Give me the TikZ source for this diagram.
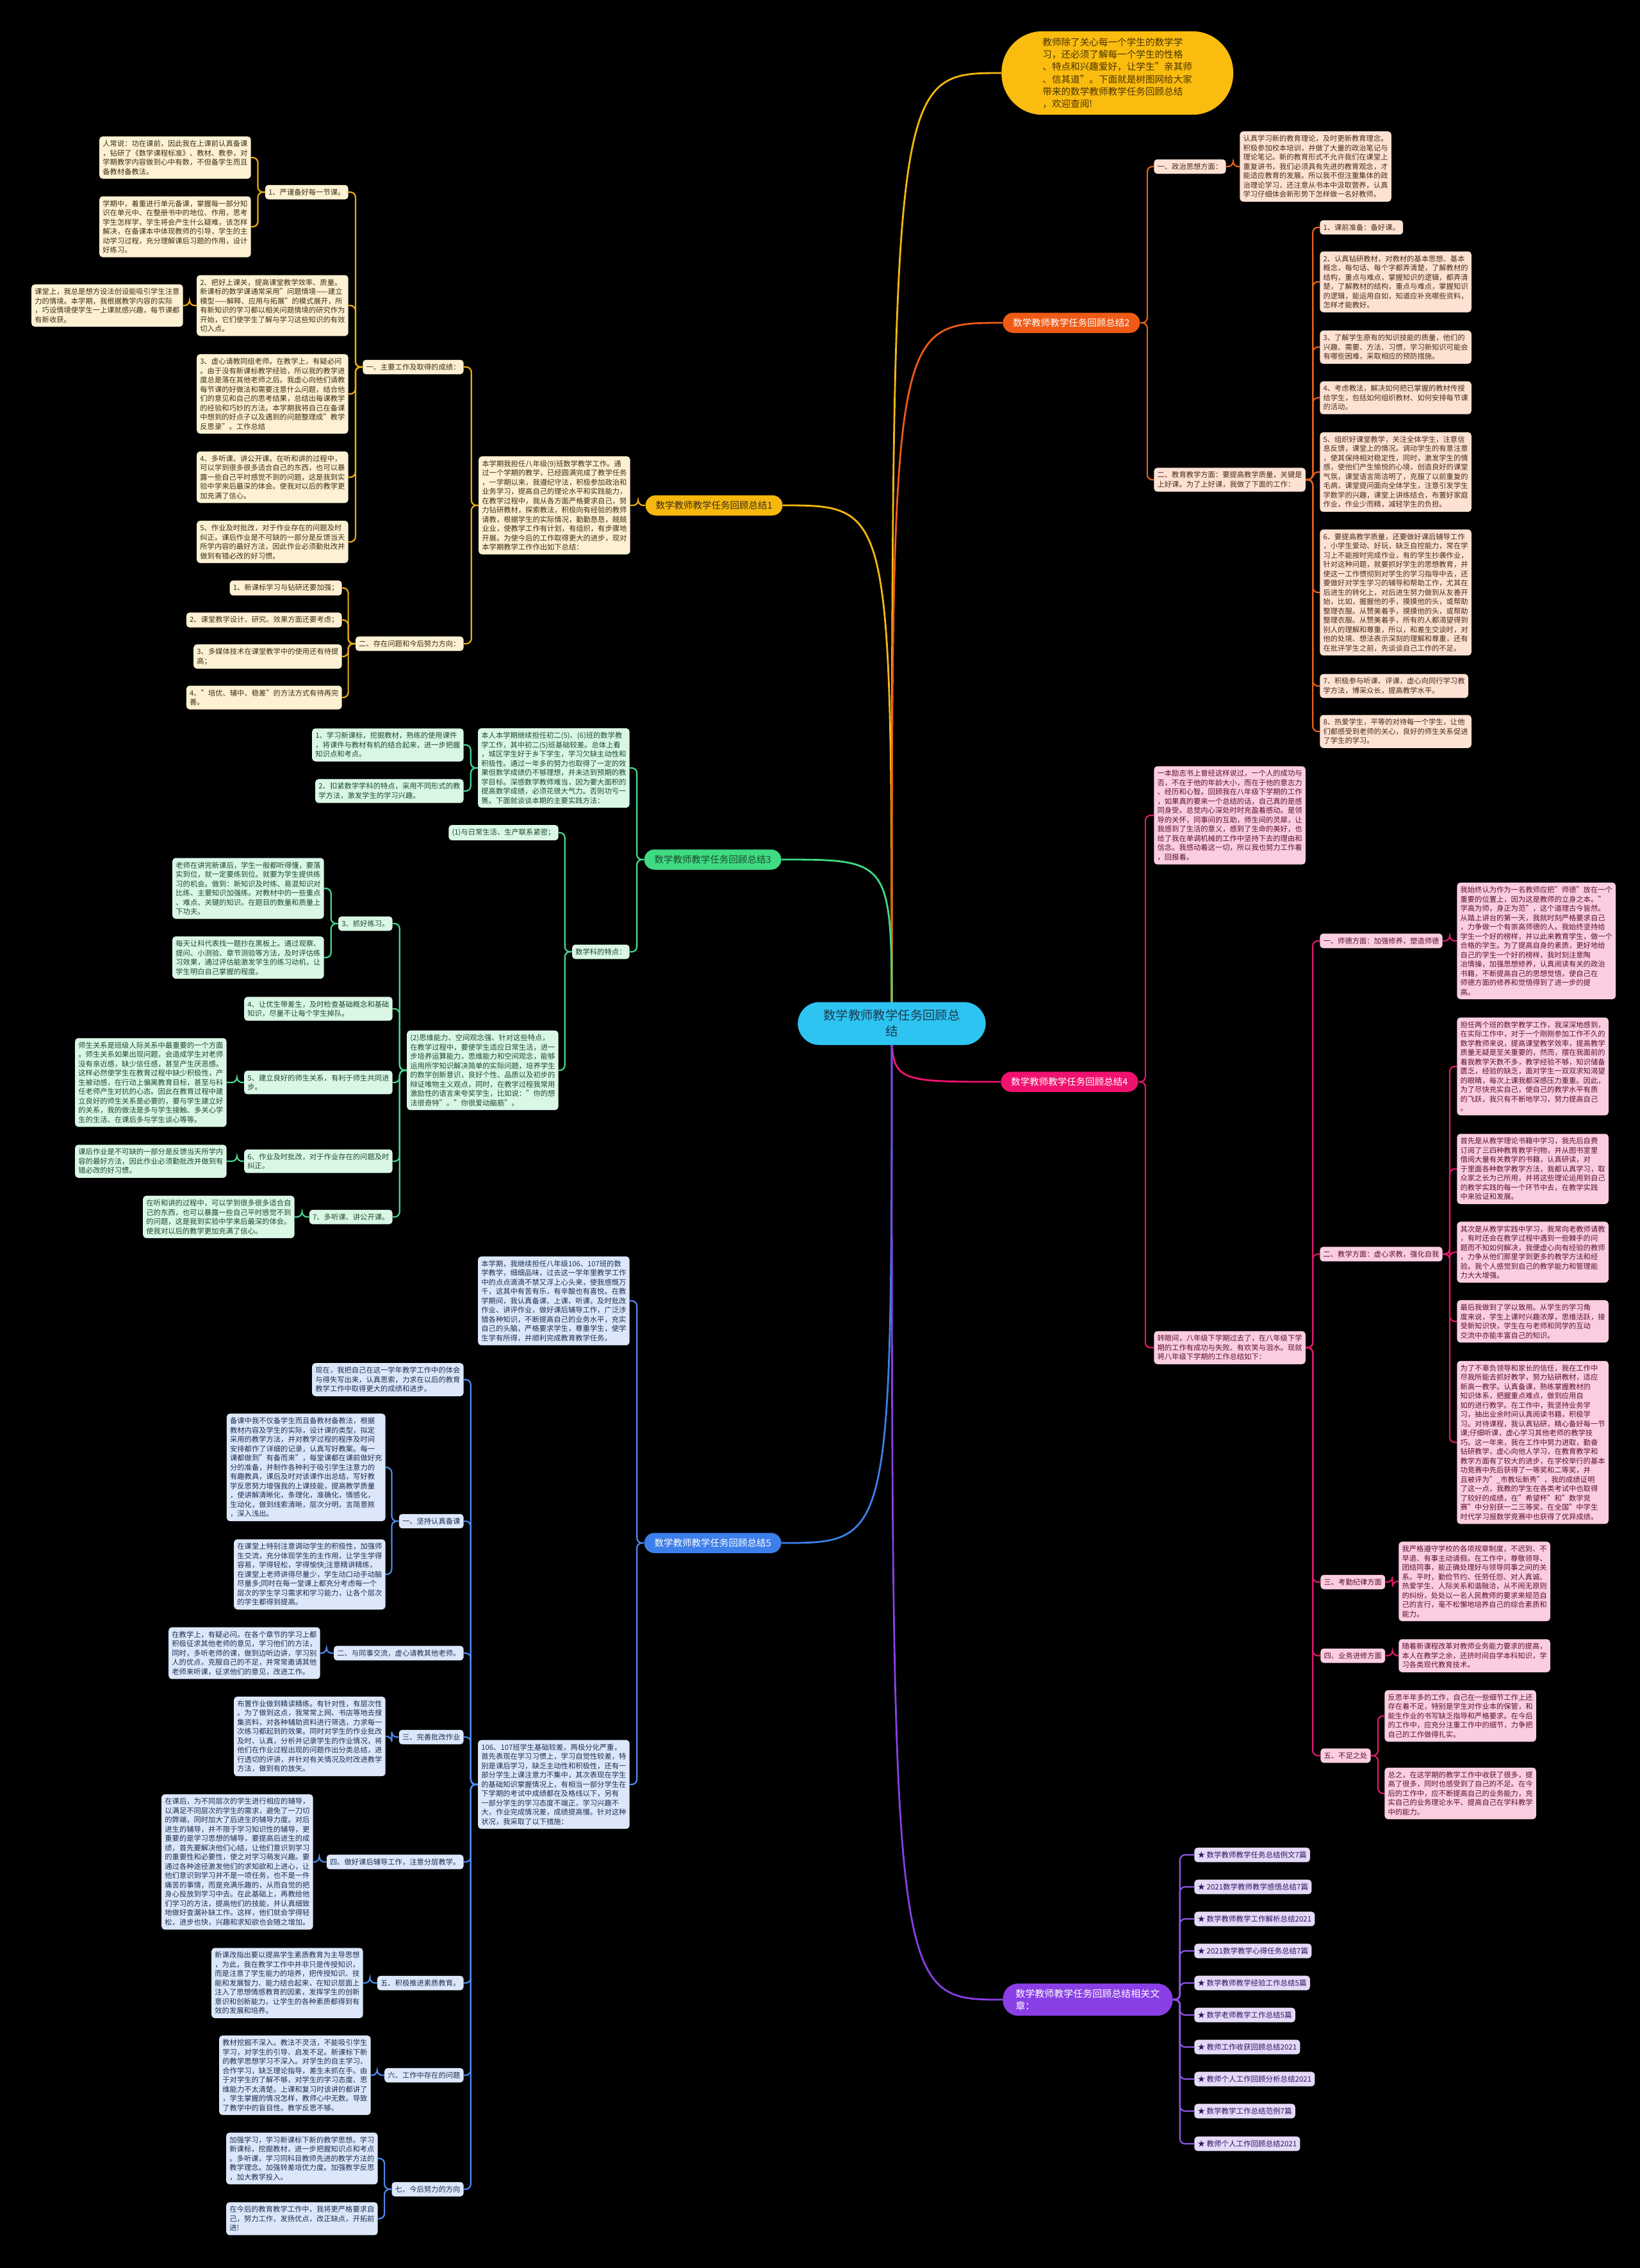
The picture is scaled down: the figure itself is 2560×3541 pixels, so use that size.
\documentclass[tikz,border=0pt]{standalone}
\usepackage{fontspec}
\setmainfont{Noto Sans CJK SC}
\XeTeXlinebreaklocale "zh"
\XeTeXlinebreakskip = 0pt plus 1pt
\pgfdeclarelayer{bg}
\pgfdeclarelayer{background}
\pgfsetlayers{bg,background,main}
\definecolor{ctrfill}{HTML}{2EC4F1}
\definecolor{ctrtext}{HTML}{1E3A4F}
\definecolor{goldmain}{HTML}{F6B80E}
\definecolor{goldline}{HTML}{E9AE14}
\definecolor{goldfill}{HTML}{FCF1D2}
\definecolor{goldtext}{HTML}{3C2F19}
\definecolor{intfill}{HTML}{FBBC10}
\definecolor{inttext}{HTML}{4A3500}
\definecolor{ormain}{HTML}{EF5B17}
\definecolor{orline}{HTML}{E8621E}
\definecolor{orfill}{HTML}{FDE2D4}
\definecolor{ortext}{HTML}{4B2A1C}
\definecolor{grmain}{HTML}{3EDB83}
\definecolor{grline}{HTML}{47D98B}
\definecolor{grfill}{HTML}{DAF6E5}
\definecolor{grtext}{HTML}{1D4B2E}
\definecolor{mgmain}{HTML}{F0126F}
\definecolor{mgline}{HTML}{E0196E}
\definecolor{mgfill}{HTML}{FBCDE0}
\definecolor{mgtext}{HTML}{5B1133}
\definecolor{blmain}{HTML}{3D7FEA}
\definecolor{blline}{HTML}{4C8BF0}
\definecolor{blfill}{HTML}{DCE8FA}
\definecolor{bltext}{HTML}{1C2E52}
\definecolor{pumain}{HTML}{8A3FE6}
\definecolor{puline}{HTML}{8F57E8}
\definecolor{pufill}{HTML}{E4D9F7}
\definecolor{putext}{HTML}{2F1462}
\tikzset{
  base/.style={rounded corners=2.5pt, inner xsep=2.6pt, inner ysep=3pt, align=left,
    font=\fontsize{5.65}{7.25}\selectfont},
  gb/.style={base, fill=goldfill, text=goldtext},
  ob/.style={base, fill=orfill, text=ortext},
  grb/.style={base, fill=grfill, text=grtext},
  mb/.style={base, fill=mgfill, text=mgtext},
  bb/.style={base, fill=blfill, text=bltext},
  pb/.style={base, fill=pufill, text=putext, font=\fontsize{5.75}{7.25}\selectfont},
  mainb/.style={rounded corners=8pt, inner xsep=8pt, inner ysep=4.5pt, align=center,
    font=\fontsize{7.25}{9}\selectfont},
  conn/.style={line width=1.1pt, rounded corners=4pt},
  mconn/.style={line width=1.4pt}
}
\newcommand\lcon[3]{\draw[conn,#3] (#1.west) -- ++(-11,0) |- (#2.east);}
\newcommand\rcon[3]{\draw[conn,#3] (#1.east) -- ++(11,0) |- (#2.west);}
\begin{document}
\begin{tikzpicture}[x=0.5pt,y=-0.5pt]
\begin{pgfonlayer}{bg}
\fill[black] (0,0) rectangle (2560,3541);
\end{pgfonlayer}
\useasboundingbox (0,0) rectangle (2560,3541);

% center
\node[fill=ctrfill, text=ctrtext, rounded corners=17pt, inner xsep=20pt, inner ysep=6pt,
  align=center, font=\fontsize{9.7}{12.5}\selectfont] (ctr) at (1392,1598) {数学教师教学任务回顾总\\结};

% intro bubble
\node[fill=intfill, text=inttext, rounded corners=32pt, inner xsep=32pt, inner ysep=5pt,
  align=left, font=\fontsize{7.3}{9.65}\selectfont, anchor=west] (intro) at (1563,114)
  {教师除了关心每一个学生的数学学\\习，还必须了解每一个学生的性格\\、特点和兴趣爱好，让学生"亲其师\\、信其道"。下面就是树图网给大家\\带来的数学教师教学任务回顾总结\\，欢迎查阅!};

% ===== Branch 1 (gold) =====
\node[mainb, fill=goldmain, text=goldtext, anchor=east] (B1) at (1222,789) {数学教师教学任务回顾总结1};
\node[gb, anchor=east] (T1) at (984,789) {本学期我担任八年级(9)班数学教学工作。通\\过一个学期的教学，已经圆满完成了教学任务\\，一学期以来，我遵纪守法，积极参加政治和\\业务学习，提高自己的理论水平和实践能力，\\在教学过程中，我从各方面严格要求自己，努\\力钻研教材，探索教法，积极向有经验的教师\\请教，根据学生的实际情况，勤勤恳恳，兢兢\\业业，使教学工作有计划，有组织，有步骤地\\开展。为使今后的工作取得更大的进步，现对\\本学期教学工作作出如下总结：};
\node[gb, anchor=east] (s1a) at (724,573) {一、主要工作及取得的成绩：};
\node[gb, anchor=east] (s1b) at (724,1005) {二、存在问题和今后努力方向：};
\node[gb, anchor=east] (c1) at (544,300) {1、严谨备好每一节课。};
\node[gb, anchor=east] (c2) at (544,477) {2、把好上课关，提高课堂教学效率、质量。\\新课标的数学课通常采用"问题情境——建立\\模型——解释、应用与拓展"的模式展开，所\\有新知识的学习都以相关问题情境的研究作为\\开始，它们使学生了解与学习这些知识的有效\\切入点。};
\node[gb, anchor=east] (c3) at (544,615) {3、虚心请教同组老师。在教学上，有疑必问\\。由于没有新课标教学经验，所以我的教学进\\度总是落在其他老师之后。我虚心向他们请教\\每节课的好做法和需要注意什么问题，结合他\\们的意见和自己的思考结果，总结出每课教学\\的经验和巧妙的方法。本学期我将自己在备课\\中想到的好点子以及遇到的问题整理成"教学\\反思录"。工作总结};
\node[gb, anchor=east] (c4) at (544,745) {4、多听课、讲公开课。在听和讲的过程中，\\可以学到很多很多适合自己的东西，也可以暴\\露一些自己平时感觉不到的问题，这是我到实\\验中学来后最深的体会。使我对以后的教学更\\加充满了信心。};
\node[gb, anchor=east] (c5) at (544,846) {5、作业及时批改，对于作业存在的问题及时\\纠正。课后作业是不可缺的一部分是反馈当天\\所学内容的最好方法，因此作业必须勤批改并\\做到有错必改的好习惯。};
\node[gb, anchor=east] (g1a) at (392,246) {人常说：功在课前，因此我在上课前认真备课\\，钻研了《数学课程标准》、教材、教参，对\\学期教学内容做到心中有数，不但备学生而且\\备教材备教法。};
\node[gb, anchor=east] (g1b) at (392,354) {学期中，着重进行单元备课，掌握每一部分知\\识在单元中、在整册书中的地位、作用，思考\\学生怎样学，学生将会产生什么疑难，该怎样\\解决，在备课本中体现教师的引导，学生的主\\动学习过程，充分理解课后习题的作用，设计\\好练习。};
\node[gb, anchor=east] (g2a) at (286,477) {课堂上，我总是想方设法创设能吸引学生注意\\力的情境。本学期，我根据教学内容的实际\\，巧设情境使学生一上课就感兴趣，每节课都\\有新收获。};
\node[gb, anchor=east] (d1) at (534,918) {1、新课标学习与钻研还要加强；};
\node[gb, anchor=east] (d2) at (534,968) {2、课堂教学设计、研究、效果方面还要考虑；};
\node[gb, anchor=east] (d3) at (534,1025) {3、多媒体技术在课堂教学中的使用还有待提\\高；};
\node[gb, anchor=east] (d4) at (534,1089) {4、"培优、辅中、稳差"的方法方式有待再完\\善。};

% ===== Branch 2 (orange) =====
\node[mainb, fill=ormain, text=white, anchor=west] (B2) at (1565,504) {数学教师教学任务回顾总结2};
\node[ob, anchor=west] (o1) at (1801,260) {一、政治思想方面：};
\node[ob, anchor=west] (o1t) at (1935,260) {认真学习新的教育理论，及时更新教育理念。\\积极参加校本培训，并做了大量的政治笔记与\\理论笔记。新的教育形式不允许我们在课堂上\\重复讲书，我们必须具有先进的教育观念，才\\能适应教育的发展。所以我不但注重集体的政\\治理论学习，还注意从书本中汲取营养，认真\\学习仔细体会新形势下怎样做一名好教师。};
\node[ob, anchor=west] (o2) at (1801,749) {二、教育教学方面：要提高教学质量，关键是\\上好课。为了上好课，我做了下面的工作：};
\node[ob, anchor=west] (k1) at (2060,355) {1、课前准备：备好课。};
\node[ob, anchor=west] (k2) at (2060,440) {2、认真钻研教材，对教材的基本思想、基本\\概念，每句话、每个字都弄清楚，了解教材的\\结构，重点与难点，掌握知识的逻辑，都弄清\\楚，了解教材的结构，重点与难点，掌握知识\\的逻辑，能运用自如，知道应补充哪些资料，\\怎样才能教好。};
\node[ob, anchor=west] (k3) at (2060,542) {3、了解学生原有的知识技能的质量，他们的\\兴趣、需要、方法、习惯，学习新知识可能会\\有哪些困难，采取相应的预防措施。};
\node[ob, anchor=west] (k4) at (2060,621) {4、考虑教法，解决如何把已掌握的教材传授\\给学生，包括如何组织教材、如何安排每节课\\的活动。};
\node[ob, anchor=west] (k5) at (2060,737) {5、组织好课堂教学，关注全体学生，注意信\\息反馈，课堂上的情况。调动学生的有意注意\\，使其保持相对稳定性，同时，激发学生的情\\感，使他们产生愉悦的心境，创造良好的课堂\\气氛，课堂语言简洁明了，克服了以前重复的\\毛病，课堂提问面向全体学生，注意引发学生\\学数学的兴趣，课堂上讲练结合，布置好家庭\\作业，作业少而精，减轻学生的负担。};
\node[ob, anchor=west] (k6) at (2060,925) {6、要提高教学质量，还要做好课后辅导工作\\，小学生爱动、好玩，缺乏自控能力，常在学\\习上不能按时完成作业，有的学生抄袭作业，\\针对这种问题，就要抓好学生的思想教育，并\\使这一工作惯彻到对学生的学习指导中去，还\\要做好对学生学习的辅导和帮助工作，尤其在\\后进生的转化上，对后进生努力做到从友善开\\始，比如，握握他的手，摸摸他的头，或帮助\\整理衣服。从赞美着手，摸摸他的头，或帮助\\整理衣服。从赞美着手，所有的人都渴望得到\\别人的理解和尊重，所以，和差生交谈时，对\\他的处境、想法表示深刻的理解和尊重，还有\\在批评学生之前，先谈谈自己工作的不足。};
\node[ob, anchor=west] (k7) at (2060,1071) {7、积极参与听课、评课，虚心向同行学习教\\学方法，博采众长，提高教学水平。};
\node[ob, anchor=west] (k8) at (2060,1142) {8、热爱学生，平等的对待每一个学生，让他\\们都感受到老师的关心，良好的师生关系促进\\了学生的学习。};

% ===== Branch 3 (green) =====
\node[mainb, fill=grmain, text=grtext, anchor=east] (B3) at (1220,1342) {数学教师教学任务回顾总结3};
\node[grb, anchor=east] (v0) at (983,1199) {本人本学期继续担任初二(5)、(6)班的数学教\\学工作，其中初二(5)班基础较差。总体上看\\，城区学生好于乡下学生，学习欠缺主动性和\\积极性。通过一年多的努力也取得了一定的效\\果但数学成绩仍不够理想，并未达到预期的教\\学目标。深感数学教师难当，因为要大面积的\\提高数学成绩，必须花很大气力。否则功亏一\\篑。下面就谈谈本期的主要实践方法：};
\node[grb, anchor=east] (v0a) at (724,1163) {1、学习新课标，挖掘教材，熟练的使用课件\\，将课件与教材有机的结合起来，进一步把握\\知识点和考点。};
\node[grb, anchor=east] (v0b) at (724,1235) {2、扣紧数学学科的特点，采用不同形式的教\\学方法，激发学生的学习兴趣。};
\node[grb, anchor=east] (v1) at (983,1486) {数学科的特点：};
\node[grb, anchor=east] (w1) at (872,1300) {(1)与日常生活、生产联系紧密；};
\node[grb, anchor=east] (w2) at (872,1671) {(2)思维能力、空间观念强、针对这些特点，\\在教学过程中，要使学生适应日常生活，进一\\步培养运算能力，思维能力和空间观念，能够\\运用所学知识解决简单的实际问题，培养学生\\的数学创新意识，良好个性、品质以及初步的\\辩证唯物主义观点，同时，在教学过程我常用\\激励性的语言来夸奖学生，比如说："你的想\\法很奇特"。"你很爱动脑筋"。};
\node[grb, anchor=east] (x3) at (613,1442) {3、抓好练习。};
\node[grb, anchor=east] (x4) at (613,1575) {4、让优生带差生，及时检查基础概念和基础\\知识，尽量不让每个学生掉队。};
\node[grb, anchor=east] (x5) at (613,1690) {5、建立良好的师生关系，有利于师生共同进\\步。};
\node[grb, anchor=east] (x6) at (613,1813) {6、作业及时批改，对于作业存在的问题及时\\纠正。};
\node[grb, anchor=east] (x7) at (613,1900) {7、多听课、讲公开课。};
\node[grb, anchor=east] (x3a) at (506,1387) {老师在讲完新课后，学生一般都听得懂，要落\\实到位，就一定要练到位。就要为学生提供练\\习的机会。做到：新知识及时练、易混知识对\\比练、主要知识加强练。对教材中的一些重点\\、难点、关键的知识。在题目的数量和质量上\\下功夫。};
\node[grb, anchor=east] (x3b) at (506,1495) {每天让科代表找一题抄在黑板上。通过观察、\\提问、小测验、章节测验等方法，及时评估练\\习效果，通过评估能激发学生的练习动机，让\\学生明白自己掌握的程度。};
\node[grb, anchor=east] (x5k) at (354,1690) {师生关系是班级人际关系中最重要的一个方面\\。师生关系如果出现问题，会造成学生对老师\\没有亲近感，缺少信任感，甚至产生厌恶感。\\这样必然使学生在教育过程中缺少积极性，产\\生被动感，在行动上偏离教育目标，甚至与科\\任老师产生对抗的心态。因此在教育过程中建\\立良好的师生关系是必要的，要与学生建立好\\的关系，我的做法是多与学生接触、多关心学\\生的生活、在课后多与学生谈心等等。};
\node[grb, anchor=east] (x6k) at (354,1813) {课后作业是不可缺的一部分是反馈当天所学内\\容的最好方法，因此作业必须勤批改并做到有\\错必改的好习惯。};
\node[grb, anchor=east] (x7k) at (460,1900) {在听和讲的过程中，可以学到很多很多适合自\\己的东西，也可以暴露一些自己平时感觉不到\\的问题，这是我到实验中学来后最深的体会。\\使我对以后的教学更加充满了信心。};

% ===== Branch 4 (magenta) =====
\node[mainb, fill=mgmain, text=white, anchor=west] (B4) at (1562,1689) {数学教师教学任务回顾总结4};
\node[mb, anchor=west] (t41) at (1801,1273) {一本励志书上曾经这样说过，一个人的成功与\\否，不在于他的年龄大小，而在于他的意志力\\、经历和心智。回顾我在八年级下学期的工作\\，如果真的要来一个总结的话，自己真的是感\\同身受。总觉内心深处时时充盈着感动。是领\\导的关怀，同事间的互助，师生间的灵犀，让\\我感到了生活的意义，感到了生命的美好，也\\给了我在单调机械的工作中坚持下去的理由和\\信念。我感动着这一切，所以我也努力工作着\\，回报着。};
\node[mb, anchor=west] (t42) at (1801,2104) {转眼间，八年级下学期过去了，在八年级下学\\期的工作有成功与失败、有欢笑与泪水。现就\\将八年级下学期的工作总结如下：};
\node[mb, anchor=west] (p1) at (2060,1469) {一、师德方面：加强修养，塑造师德};
\node[mb, anchor=west] (p1t) at (2274,1469) {我始终认为作为一名教师应把"师德"放在一个\\重要的位置上，因为这是教师的立身之本。"\\学高为师，身正为范"，这个道理古今皆然。\\从踏上讲台的第一天，我就时刻严格要求自己\\，力争做一个有崇高师德的人。我始终坚持给\\学生一个好的榜样，并以此来教育学生，做一个\\合格的学生。为了提高自身的素质，更好地给\\自己的学生一个好的榜样，我时刻注意陶\\冶情操，加强思想修养，认真阅读有关的政治\\书籍，不断提高自己的思想觉悟，使自己在\\师德方面的修养和觉悟得到了进一步的提\\高。};
\node[mb, anchor=west] (p2) at (2060,1958) {二、教学方面：虚心求教，强化自我};
\node[mb, anchor=west] (q1) at (2274,1665) {担任两个班的数学教学工作，我深深地感到，\\在实际工作中，对于一个刚刚参加工作不久的\\数学教师来说，提高课堂教学效率，提高教学\\质量无疑是至关重要的，然而，摆在我面前的\\着我教学天数不多，教学经验不够，知识储备\\匮乏，经验的缺乏，面对学生一双双求知渴望\\的眼睛，每次上课我都深感压力重重。因此，\\为了尽快充实自己，使自己的教学水平有质\\的飞跃，我只有不断地学习，努力提高自己\\。};
\node[mb, anchor=west] (q2) at (2274,1825) {首先是从教学理论书籍中学习，我先后自费\\订阅了三四种教育教学刊物，并从图书室里\\借阅大量有关教学的书籍，认真研读，对\\于里面各种数学教学方法，我都认真学习，取\\众家之长为己所用，并将这些理论运用到自己\\的教学实践的每一个环节中去，在教学实践\\中来验证和发展。};
\node[mb, anchor=west] (q3) at (2274,1955) {其次是从教学实践中学习，我常向老教师请教\\，有时还会在教学过程中遇到一些棘手的问\\题而不知如何解决，我便虚心向有经验的教师\\，力争从他们那里学到更多的教学方法和经\\验。我个人感觉到自己的教学能力和管理能\\力大大增强。};
\node[mb, anchor=west] (q4) at (2274,2063) {最后我做到了学以致用。从学生的学习角\\度来说，学生上课时兴趣浓厚，思维活跃，接\\受新知识快，学生在与老师和同学的互动\\交流中亦能丰富自己的知识。};
\node[mb, anchor=west] (q5) at (2274,2252) {为了不辜负领导和家长的信任，我在工作中\\尽我所能去抓好教学，努力钻研教材，适应\\新高一教学。认真备课，熟练掌握教材的\\知识体系，把握重点难点，做到应用自\\如的进行教学。在工作中，我坚持业务学\\习，抽出业余时间认真阅读书籍，积极学\\习。对待课程，我认真钻研，精心备好每一节\\课;仔细听课，虚心学习其他老师的教学技\\巧。这一年来，我在工作中努力进取，勤奋\\钻研教学，虚心向他人学习，在教育教学和\\教学方面有了较大的进步，在学校举行的基本\\功竞赛中先后获得了一等奖和二等奖，并\\且被评为"\_市教坛新秀"，我的成绩证明\\了这一点，我教的学生在各类考试中也取得\\了较好的成绩，在"希望杯"和"数学竞\\赛"中分别获一二三等奖，在全国"中学生\\时代学习报数学竞赛中也获得了优异成绩。};
\node[mb, anchor=west] (p3) at (2061,2470) {三、考勤纪律方面};
\node[mb, anchor=west] (p3t) at (2183,2469) {我严格遵守学校的各项规章制度，不迟到、不\\早退、有事主动请假。在工作中，尊敬领导、\\团结同事，能正确处理好与领导同事之间的关\\系。平时，勤俭节约、任劳任怨、对人真诚、\\热爱学生、人际关系和谐融洽，从不闹无原则\\的纠纷，处处以一名人民教师的要求来规范自\\己的言行，毫不松懈地培养自己的综合素质和\\能力。};
\node[mb, anchor=west] (p4) at (2061,2585) {四、业务进修方面};
\node[mb, anchor=west] (p4t) at (2183,2585) {随着新课程改革对教师业务能力要求的提高，\\本人在教学之余，还挤时间自学本科知识，学\\习各类现代教育技术。};
\node[mb, anchor=west] (p5) at (2061,2741) {五、不足之处};
\node[mb, anchor=west] (r1) at (2161,2679) {反思半年多的工作，自己在一些细节工作上还\\存在着不足，特别是学生对作业本的保管，和\\能生作业的书写缺乏指导和严格要求。在今后\\的工作中，应充分注重工作中的细节，力争把\\自己的工作做得扎实。};
\node[mb, anchor=west] (r2) at (2161,2800) {总之，在这学期的教学工作中收获了很多，提\\高了很多，同时也感受到了自己的不足。在今\\后的工作中，应不断提高自己的业务能力，充\\实自己的业务理论水平、提高自己在学科教学\\中的能力。};

% ===== Branch 5 (blue) =====
\node[mainb, fill=blmain, text=white, anchor=east] (B5) at (1220,2409) {数学教师教学任务回顾总结5};
\node[bb, anchor=east] (u0) at (983,2031) {本学期，我继续担任八年级106、107班的数\\学教学，细细品味，过去这一学年里教学工作\\中的点点滴滴不禁又浮上心头来，使我感慨万\\千，这其中有苦有乐，有辛酸也有喜悦。在教\\学期间，我认真备课、上课、听课，及时批改\\作业、讲评作业，做好课后辅导工作，广泛涉\\猎各种知识，不断提高自己的业务水平，充实\\自己的头脑，严格要求学生，尊重学生，使学\\生学有所得，并顺利完成教育教学任务。};
\node[bb, anchor=east] (um) at (983,2786) {106、107班学生基础较差，两极分化严重，\\首先表现在学习习惯上，学习自觉性较差，特\\别是课后学习，缺乏主动性和积极性，还有一\\部分学生上课注意力不集中，其次表现在学生\\的基础知识掌握情况上，有相当一部分学生在\\下学期的考试中成绩都在及格线以下，另有\\一部分学生的学习态度不端正，学习兴趣不\\大，作业完成情况差，成绩提高慢。针对这种\\状况，我采取了以下措施：};
\node[bb, anchor=east] (u1) at (724,2154) {现在，我把自己在这一学年教学工作中的体会\\与得失写出来，认真思索，力求在以后的教育\\教学工作中取得更大的成绩和进步。};
\node[bb, anchor=east] (h1) at (724,2375) {一、坚持认真备课};
\node[bb, anchor=east] (h2) at (724,2581) {二、与同事交流，虚心请教其他老师。};
\node[bb, anchor=east] (h3) at (724,2712) {三、完善批改作业};
\node[bb, anchor=east] (h4) at (724,2907) {四、做好课后辅导工作，注意分层教学。};
\node[bb, anchor=east] (h5) at (724,3096) {五、积极推进素质教育。};
\node[bb, anchor=east] (h6) at (724,3240) {六、工作中存在的问题};
\node[bb, anchor=east] (h7) at (724,3418) {七、今后努力的方向};
\node[bb, anchor=east] (h1a) at (602,2291) {备课中我不仅备学生而且备教材备教法，根据\\教材内容及学生的实际，设计课的类型，拟定\\采用的教学方法，并对教学过程的程序及时间\\安排都作了详细的记录，认真写好教案。每一\\课都做到"有备而来"，每堂课都在课前做好充\\分的准备，并制作各种利于吸引学生注意力的\\有趣教具，课后及时对该课作出总结，写好教\\学反思努力增强我的上课技能，提高教学质量\\，使讲解清晰化，条理化，准确化，情感化，\\生动化，做到线索清晰，层次分明，言简意赅\\，深入浅出。};
\node[bb, anchor=east] (h1b) at (602,2458) {在课堂上特别注意调动学生的积极性，加强师\\生交流，充分体现学生的主作用，让学生学得\\容易，学得轻松，学得愉快;注意精讲精练，\\在课堂上老师讲得尽量少，学生动口动手动脑\\尽量多;同时在每一堂课上都充分考虑每一个\\层次的学生学习需求和学习能力，让各个层次\\的学生都得到提高。};
\node[bb, anchor=east] (h2k) at (500,2581) {在教学上，有疑必问。在各个章节的学习上都\\积极征求其他老师的意见，学习他们的方法，\\同时，多听老师的课，做到边听边讲，学习别\\人的优点，克服自己的不足，并常常邀请其他\\老师来听课，征求他们的意见，改进工作。};
\node[bb, anchor=east] (h3k) at (602,2711) {布置作业做到精读精练。有针对性，有层次性\\。为了做到这点，我常常上网、书店等地去搜\\集资料，对各种辅助资料进行筛选，力求每一\\次练习都起到的效果。同时对学生的作业批改\\及时、认真，分析并记录学生的作业情况，将\\他们在作业过程出现的问题作出分类总结，进\\行透切的评讲，并针对有关情况及时改进教学\\方法，做到有的放矢。};
\node[bb, anchor=east] (h4k) at (489,2907) {在课后，为不同层次的学生进行相应的辅导，\\以满足不同层次的学生的需求，避免了一刀切\\的弊端，同时加大了后进生的辅导力度。对后\\进生的辅导，并不限于学习知识性的辅导，更\\重要的是学习思想的辅导，要提高后进生的成\\绩，首先要解决他们心结，让他们意识到学习\\的重要性和必要性，使之对学习萌发兴趣。要\\通过各种途径激发他们的求知欲和上进心，让\\他们意识到学习并不是一项任务，也不是一件\\痛苦的事情，而是充满乐趣的，从而自觉的把\\身心投放到学习中去。在此基础上，再教给他\\们学习的方法，提高他们的技能，并认真细致\\地做好查漏补缺工作。这样，他们就会学得轻\\松，进步也快，兴趣和求知欲也会随之增加。};
\node[bb, anchor=east] (h5k) at (567,3096) {新课改指出要以提高学生素质教育为主导思想\\，为此，我在教学工作中并非只是传授知识，\\而是注意了学生能力的培养，把传授知识、技\\能和发展智力、能力结合起来，在知识层面上\\注入了思想情感教育的因素，发挥学生的创新\\意识和创新能力。让学生的各种素质都得到有\\效的发展和培养。};
\node[bb, anchor=east] (h6k) at (579,3240) {教材挖掘不深入。教法不灵活，不能吸引学生\\学习，对学生的引导、启发不足。新课标下新\\的教学思想学习不深入。对学生的自主学习、\\合作学习，缺乏理论指导，差生未抓在手。由\\于对学生的了解不够，对学生的学习态度、思\\维能力不太清楚。上课和复习时该讲的都讲了\\，学生掌握的情况怎样，教师心中无数。导致\\了教学中的盲目性。教学反思不够。};
\node[bb, anchor=east] (h7a) at (590,3370) {加强学习，学习新课标下新的教学思想。学习\\新课标，挖掘教材，进一步把握知识点和考点\\。多听课，学习同科目教师先进的教学方法的\\教学理念。加强转差培优力度。加强教学反思\\，加大教学投入。};
\node[bb, anchor=east] (h7b) at (590,3464) {在今后的教育教学工作中，我将更严格要求自\\己，努力工作，发扬优点，改正缺点，开拓前\\进!};

% ===== Branch 6 (purple) =====
\node[mainb, fill=pumain, text=white, anchor=west, align=left, rounded corners=12pt, inner xsep=10pt,
  font=\fontsize{7.5}{9.2}\selectfont] (B6) at (1565,3122) {数学教师教学任务回顾总结相关文\\章：};
\node[pb, anchor=west] (L1) at (1864,2896) {★ 数学教师教学任务总结例文7篇};
\node[pb, anchor=west] (L2) at (1864,2946) {★ 2021数学教师教学感悟总结7篇};
\node[pb, anchor=west] (L3) at (1864,2996) {★ 数学教师教学工作解析总结2021};
\node[pb, anchor=west] (L4) at (1864,3046) {★ 2021数学教学心得任务总结7篇};
\node[pb, anchor=west] (L5) at (1864,3096) {★ 数学教师教学经验工作总结5篇};
\node[pb, anchor=west] (L6) at (1864,3146) {★ 数学老师教学工作总结5篇};
\node[pb, anchor=west] (L7) at (1864,3196) {★ 教师工作收获回顾总结2021};
\node[pb, anchor=west] (L8) at (1864,3246) {★ 教师个人工作回顾分析总结2021};
\node[pb, anchor=west] (L9) at (1864,3296) {★ 数学教学工作总结范例7篇};
\node[pb, anchor=west] (L10) at (1864,3347) {★ 教师个人工作回顾总结2021};

% ===== connectors =====
\begin{pgfonlayer}{background}
\draw[mconn, goldmain] (ctr.center) .. controls (1392,114) .. (intro.west);
\draw[mconn, goldmain] (ctr.center) .. controls (1392,789) .. (B1.east);
\draw[mconn, ormain] (ctr.center) .. controls (1392,504) .. (B2.west);
\draw[mconn, grmain] (ctr.center) .. controls (1392,1342) .. (B3.east);
\draw[mconn, mgmain] (ctr.center) .. controls (1392,1689) .. (B4.west);
\draw[mconn, blmain] (ctr.center) .. controls (1392,2409) .. (B5.east);
\draw[mconn, pumain] (ctr.center) .. controls (1392,3122) .. (B6.west);
% gold
\lcon{B1}{T1}{goldline}
\lcon{T1}{s1a}{goldline} \lcon{T1}{s1b}{goldline}
\foreach \c in {c1,c2,c3,c4,c5} {\lcon{s1a}{\c}{goldline}}
\foreach \c in {d1,d2,d3,d4} {\lcon{s1b}{\c}{goldline}}
\lcon{c1}{g1a}{goldline} \lcon{c1}{g1b}{goldline}
\lcon{c2}{g2a}{goldline}
% orange
\rcon{B2}{o1}{orline} \rcon{B2}{o2}{orline}
\rcon{o1}{o1t}{orline}
\foreach \c in {k1,k2,k3,k4,k5,k6,k7,k8} {\rcon{o2}{\c}{orline}}
% green
\lcon{B3}{v0}{grline} \lcon{B3}{v1}{grline}
\lcon{v0}{v0a}{grline} \lcon{v0}{v0b}{grline}
\lcon{v1}{w1}{grline} \lcon{v1}{w2}{grline}
\foreach \c in {x3,x4,x5,x6,x7} {\lcon{w2}{\c}{grline}}
\lcon{x3}{x3a}{grline} \lcon{x3}{x3b}{grline}
\lcon{x5}{x5k}{grline} \lcon{x6}{x6k}{grline} \lcon{x7}{x7k}{grline}
% magenta
\rcon{B4}{t41}{mgline} \rcon{B4}{t42}{mgline}
\foreach \c in {p1,p2,p3,p4,p5} {\rcon{t42}{\c}{mgline}}
\rcon{p1}{p1t}{mgline}
\foreach \c in {q1,q2,q3,q4,q5} {\rcon{p2}{\c}{mgline}}
\rcon{p3}{p3t}{mgline} \rcon{p4}{p4t}{mgline}
\rcon{p5}{r1}{mgline} \rcon{p5}{r2}{mgline}
% blue
\lcon{B5}{u0}{blline} \lcon{B5}{um}{blline}
\foreach \c in {u1,h1,h2,h3,h4,h5,h6,h7} {\lcon{um}{\c}{blline}}
\lcon{h1}{h1a}{blline} \lcon{h1}{h1b}{blline}
\lcon{h2}{h2k}{blline} \lcon{h3}{h3k}{blline} \lcon{h4}{h4k}{blline}
\lcon{h5}{h5k}{blline} \lcon{h6}{h6k}{blline}
\lcon{h7}{h7a}{blline} \lcon{h7}{h7b}{blline}
% purple
\foreach \c in {L1,L2,L3,L4,L5,L6,L7,L8,L9,L10} {\rcon{B6}{\c}{puline}}
\end{pgfonlayer}
\end{tikzpicture}
\end{document}
